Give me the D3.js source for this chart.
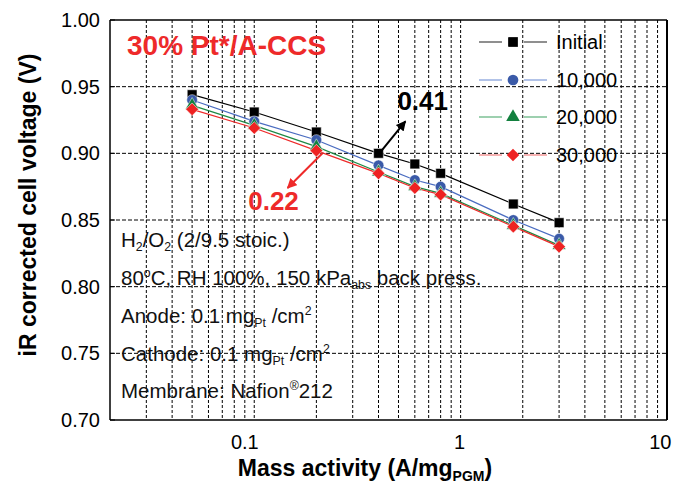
<!DOCTYPE html>
<html><head><meta charset="utf-8">
<script src="https://cdn.jsdelivr.net/npm/d3@7"></script>
<style>
html,body{margin:0;padding:0;background:#fff;}
svg text{font-family:"Liberation Sans",Arial,sans-serif;}
</style></head>
<body>
<svg id="c" width="673" height="489"></svg>
<script>
// ---- data ----
const massActivity = [0.05, 0.1, 0.2, 0.4, 0.6, 0.8, 1.8, 3.0];
const seriesNames = ["Initial", "10,000", "20,000", "30,000"];
const initialV = [0.944, 0.931, 0.916, 0.900, 0.892, 0.885, 0.862, 0.848];
const v10000  = [0.940, 0.924, 0.910, 0.891, 0.880, 0.875, 0.850, 0.836];
const v20000  = [0.936, 0.921, 0.905, 0.886, 0.875, 0.870, 0.846, 0.831];
const v30000  = [0.933, 0.919, 0.902, 0.885, 0.874, 0.869, 0.845, 0.830];
const yTicks = [0.70, 0.75, 0.80, 0.85, 0.90, 0.95, 1.00];
const xTickLabels = [0.1, 1, 10];

const svg = d3.select("#c");
const L = 110, R = 667, T = 20, B = 420;
const x = d3.scaleLog().domain([0.02, 10]).range([L, R]);
const y = d3.scaleLinear().domain([0.70, 1.00]).range([B, T]);

const xGrid = [];
[0.01, 0.1, 1].forEach(d => { for (let k = 1; k <= 9; k++) { const v = +(d * k).toPrecision(3); if (v > 0.02 && v < 10) xGrid.push(v); } });

const g = svg.append("g");
g.selectAll(".vg").data(xGrid).join("line")
  .attr("x1", d => x(d)).attr("x2", d => x(d)).attr("y1", T).attr("y2", B)
  .attr("stroke", "#000").attr("stroke-width", 1).attr("stroke-dasharray", "3,2");
g.selectAll(".hg").data(yTicks.slice(1, -1)).join("line")
  .attr("x1", L).attr("x2", R).attr("y1", d => y(d)).attr("y2", d => y(d))
  .attr("stroke", "#000").attr("stroke-width", 1).attr("stroke-dasharray", "4,2");

const xAxis = d3.axisBottom(x).tickValues(xTickLabels).tickSize(0).tickFormat(d3.format("~g"));
const xa = svg.append("g").attr("transform", `translate(0,${B})`).call(xAxis);
xa.select(".domain").remove();
xa.selectAll("text").attr("font-size", 20).attr("fill", "#000")
  .attr("text-anchor", "end").attr("dx", 4).attr("dy", 0).attr("y", 29);
const yAxis = d3.axisLeft(y).tickValues(yTicks).tickSize(0).tickFormat(d3.format(".2f"));
const ya = svg.append("g").attr("transform", `translate(${L},0)`).call(yAxis);
ya.select(".domain").remove();
ya.selectAll("text").attr("font-size", 20).attr("fill", "#000").attr("x", -10);

svg.selectAll(".yt").data(yTicks).join("line")
  .attr("x1", L).attr("x2", L + 5).attr("y1", d => y(d)).attr("y2", d => y(d)).attr("stroke", "#000");

svg.append("line").attr("x1", L).attr("x2", R).attr("y1", T).attr("y2", T).attr("stroke", "#000").attr("stroke-width", 1.5);
svg.append("line").attr("x1", R).attr("x2", R).attr("y1", T).attr("y2", B).attr("stroke", "#000").attr("stroke-width", 2);
svg.append("line").attr("x1", L).attr("x2", R).attr("y1", B).attr("y2", B).attr("stroke", "#000").attr("stroke-width", 1.5);
svg.append("line").attr("x1", L).attr("x2", L).attr("y1", T).attr("y2", B).attr("stroke", "#000").attr("stroke-width", 1.5);

const series = [
  {name: seriesNames[0], v: initialV, line: "#000000", lg: "#444444", fill: "#000000", sym: d3.symbolSquare, size: 95, rot: 0},
  {name: seriesNames[1], v: v10000, line: "#4a6cc0", lg: "#7f9bd8", fill: "#3a5aa8", sym: d3.symbolCircle, size: 90, rot: 0},
  {name: seriesNames[2], v: v20000, line: "#1e8a45", lg: "#5cb07a", fill: "#13803f", sym: d3.symbolTriangle, size: 80, rot: 0},
  {name: seriesNames[3], v: v30000, line: "#ee2a2a", lg: "#f27f7f", fill: "#ee2222", sym: d3.symbolSquare, size: 80, rot: 45}
];
const line = d3.line().x(d => x(d[0])).y(d => y(d[1]));
series.forEach(s => {
  const pts = massActivity.map((m, i) => [m, s.v[i]]);
  svg.append("path").attr("d", line(pts)).attr("fill", "none").attr("stroke", s.line).attr("stroke-width", 1.2);
});
series.forEach(s => {
  const pts = massActivity.map((m, i) => [m, s.v[i]]);
  svg.selectAll(null).data(pts).join("path")
    .attr("d", d3.symbol().type(s.sym).size(s.size))
    .attr("transform", d => `translate(${x(d[0])},${y(d[1])}) rotate(${s.rot})`)
    .attr("fill", s.fill).attr("stroke", "#fff").attr("stroke-width", 0.5);
});

const lg = svg.append("g");
const rowsY = [42, 80, 117, 155];
series.forEach((s, i) => {
  const yy = rowsY[i];
  lg.append("line").attr("x1", 479).attr("x2", 502).attr("y1", yy).attr("y2", yy).attr("stroke", s.lg).attr("stroke-width", 1.2);
  lg.append("line").attr("x1", 524).attr("x2", 547).attr("y1", yy).attr("y2", yy).attr("stroke", s.lg).attr("stroke-width", 1.2);
  lg.append("path").attr("d", d3.symbol().type(s.sym).size(s.size)()).attr("transform", `translate(513,${yy}) rotate(${s.rot})`).attr("fill", s.fill);
  lg.append("text").attr("x", 556).attr("y", yy + 7).attr("font-size", 20).text(s.name);
});

svg.append("text").attr("x", 127).attr("y", 55).attr("font-size", 28).attr("font-weight", "bold")
  .attr("fill", "#ee2a2a").text("30% Pt*/A-CCS");

const defs = svg.append("defs");
[["ab", "#000"], ["ar", "#ee2a2a"]].forEach(([id, c]) => {
  defs.append("marker").attr("id", id).attr("viewBox", "0 0 10 10").attr("refX", 9).attr("refY", 5)
    .attr("markerWidth", 5).attr("markerHeight", 5).attr("orient", "auto")
    .append("path").attr("d", "M0,0L10,5L0,10Z").attr("fill", c);
});
svg.append("line").attr("x1", x(0.414)).attr("y1", y(0.902)).attr("x2", x(0.54)).attr("y2", y(0.924))
  .attr("stroke", "#000").attr("stroke-width", 2).attr("marker-end", "url(#ab)");
svg.append("line").attr("x1", x(0.214)).attr("y1", y(0.900)).attr("x2", x(0.145)).attr("y2", y(0.874))
  .attr("stroke", "#ee2a2a").attr("stroke-width", 2).attr("marker-end", "url(#ar)");
svg.append("text").attr("x", x(0.494)).attr("y", y(0.9325)).attr("font-size", 26).attr("font-weight", "bold").text("0.41");
svg.append("text").attr("x", x(0.0935)).attr("y", y(0.8575)).attr("font-size", 26).attr("font-weight", "bold")
  .attr("fill", "#ee2a2a").text("0.22");

const fs = 20.5;
function addText(yy, parts) {
  const t = svg.append("text").attr("x", 121).attr("y", yy).attr("font-size", fs).attr("fill", "#111");
  parts.forEach(p => {
    const ts = t.append("tspan").text(p.t);
    if (p.sub) ts.attr("font-size", fs * 0.6).attr("dy", 4);
    if (p.sup) ts.attr("font-size", fs * 0.6).attr("dy", -8);
    if (p.back) ts.attr("dy", p.back);
  });
}
addText(247, [{t: "H"}, {t: "2", sub: 1}, {t: "/O", back: -4}, {t: "2", sub: 1}, {t: " (2/9.5 stoic.)", back: -4}]);
addText(285, [{t: "80"}, {t: "o", sup: 1}, {t: "C, RH 100%, 150 kPa", back: 8}, {t: "abs", sub: 1}, {t: " back press.", back: -4}]);
addText(323, [{t: "Anode: 0.1 mg"}, {t: "Pt", sub: 1}, {t: " /cm", back: -4}, {t: "2", sup: 1}]);
addText(361, [{t: "Cathode: 0.1 mg"}, {t: "Pt", sub: 1}, {t: " /cm", back: -4}, {t: "2", sup: 1}]);
addText(398, [{t: "Membrane: Nafion"}, {t: "®", sup: 1}, {t: "212", back: 8}]);

const xt = svg.append("text").attr("x", 365).attr("y", 476).attr("text-anchor", "middle")
  .attr("font-size", 23).attr("font-weight", "bold");
xt.append("tspan").text("Mass activity (A/mg");
xt.append("tspan").text("PGM").attr("font-size", 14).attr("dy", 5);
xt.append("tspan").text(")").attr("dy", -5);
svg.append("text").attr("transform", "translate(36,205) rotate(-90)").attr("text-anchor", "middle")
  .attr("font-size", 23).attr("font-weight", "bold").text("iR corrected cell voltage (V)");
</script>
</body></html>
